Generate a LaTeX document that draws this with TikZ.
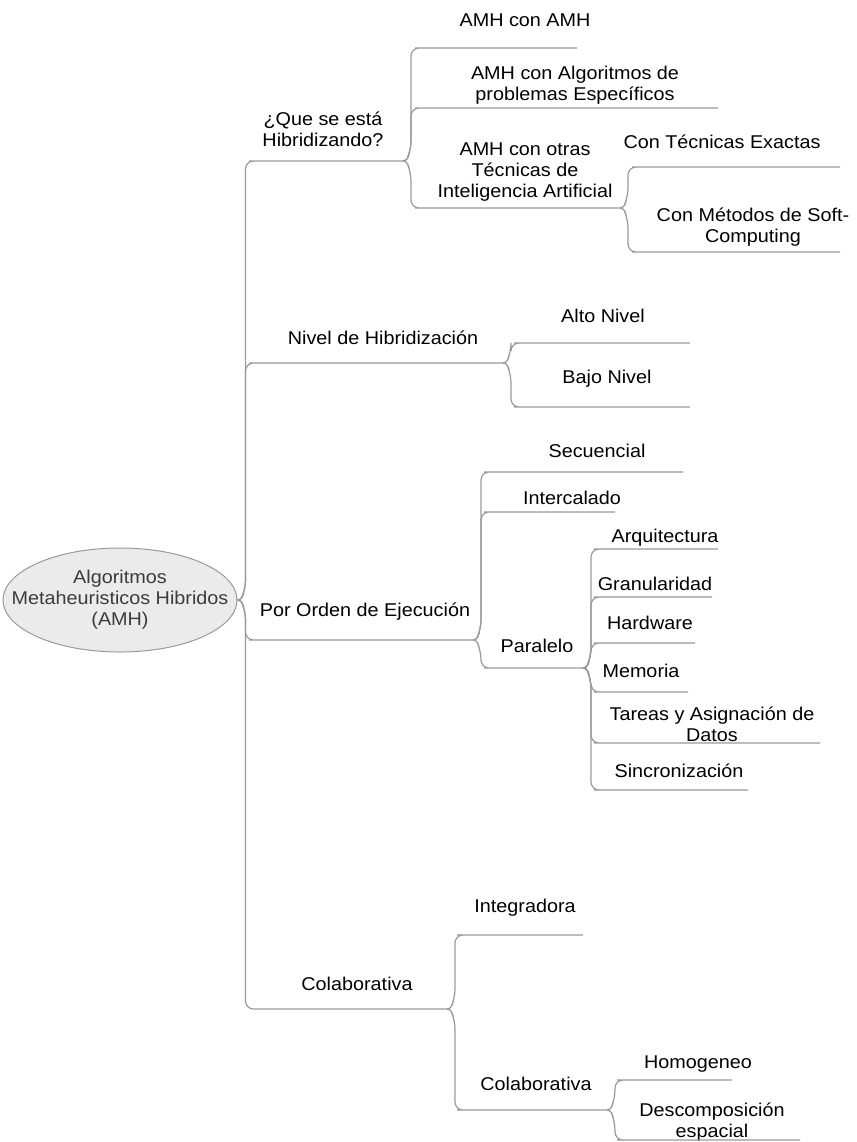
\documentclass[tikz,border=0pt]{standalone}
\usepackage{fontspec}
\setmainfont{Liberation Sans}[FakeStretch=1.07]
\usetikzlibrary{calc,shapes.geometric}
\definecolor{linegray}{HTML}{9A9A9A}
\definecolor{rootfill}{HTML}{EBEBEB}
\definecolor{roottext}{HTML}{3C3C3C}
% branch link: from a junction to the start of a child's underline, then along it
% #1 junction, #2 child name (uses #2-s and #2-e), #3 = -1 child above, +1 child below
\newcommand\mmlink[3]{%
  \draw[conn] (#1) .. controls +(5,0) and +(-2,{-#3*5}) .. ($(#1)+(8,{#3*12})$) |- (#2-s) -- (#2-e);}
\begin{document}
\begin{tikzpicture}[x=1pt,y=-1pt,
  conn/.style={draw=linegray,line width=1.2pt,rounded corners=8pt},
  topic/.style={inner sep=0pt,align=center,font=\fontsize{18.5}{21}\selectfont},
  rootnode/.style={ellipse,draw=linegray,fill=rootfill,line width=1pt,
    minimum width=234pt,minimum height=104pt,inner xsep=-28pt,inner ysep=0pt,align=center,
    text=roottext,font=\fontsize{18.5}{21}\selectfont}]
\useasboundingbox[fill=white] (0,0) rectangle (856,1142);

% central topic
\node[rootnode] (root) at (120,600) {Algoritmos\\Metaheuristicos Hibridos\\(AMH)};

% ---- labels ----
\node[topic] (q)   at (323,129) {¿Que se está\\Hibridizando?};
\node[topic] (q1)  at (525,20)  {AMH con AMH};
\node[topic] (q2)  at (575,85)  {AMH con Algoritmos de\\problemas Específicos};
\node[topic] (q3)  at (525,172) {AMH con otras\\Técnicas de\\Inteligencia Artificial};
\node[topic] (q31) at (722,142) {Con Técnicas Exactas};
\node[topic] (q32) at (753,227) {Con Métodos de Soft-\\Computing};

\node[topic] (n)   at (383,338) {Nivel de Hibridización};
\node[topic] (n1)  at (603,316) {Alto Nivel};
\node[topic] (n2)  at (607,379) {Bajo Nivel};

\node[topic] (o)   at (365,612) {Por Orden de Ejecución};
\node[topic] (o1)  at (597,451) {Secuencial};
\node[topic] (o2)  at (572,498) {Intercalado};
\node[topic] (o3)  at (537,646) {Paralelo};
\node[topic] (p1)  at (665,538) {Arquitectura};
\node[topic] (p2)  at (655,584) {Granularidad};
\node[topic] (p3)  at (650,623) {Hardware};
\node[topic] (p4)  at (641,671) {Memoria};
\node[topic] (p5)  at (712,724) {Tareas y Asignación de\\Datos};
\node[topic] (p6)  at (679,771) {Sincronización};

\node[topic] (c)   at (357,984)  {Colaborativa};
\node[topic] (c1)  at (525,908)  {Integradora};
\node[topic] (c2)  at (536,1084) {Colaborativa};
\node[topic] (c21) at (698,1064) {Homogeneo};
\node[topic] (c22) at (712,1122) {Descomposición\\espacial};

% ---- underline end points ----
\coordinate (q-s) at (257,161);  \coordinate (q-e) at (403,161);
\coordinate (q1-s) at (423,48);  \coordinate (q1-e) at (577,48);
\coordinate (q2-s) at (423,108); \coordinate (q2-e) at (718,108);
\coordinate (q3-s) at (423,208); \coordinate (q3-e) at (620,208);
\coordinate (q31-s) at (640,167); \coordinate (q31-e) at (840,167);
\coordinate (q32-s) at (640,252); \coordinate (q32-e) at (840,252);

\coordinate (n-s) at (257,363);  \coordinate (n-e) at (503,363);
\coordinate (n1-s) at (522,343); \coordinate (n1-e) at (690,343);
\coordinate (n2-s) at (522,407); \coordinate (n2-e) at (690,407);

\coordinate (o-s) at (257,640);  \coordinate (o-e) at (473,640);
\coordinate (o1-s) at (492,472); \coordinate (o1-e) at (683,472);
\coordinate (o2-s) at (492,512); \coordinate (o2-e) at (615,512);
\coordinate (o3-s) at (492,668); \coordinate (o3-e) at (583,668);
\coordinate (p1-s) at (602,549); \coordinate (p1-e) at (718,549);
\coordinate (p2-s) at (602,597); \coordinate (p2-e) at (712,597);
\coordinate (p3-s) at (602,643); \coordinate (p3-e) at (695,643);
\coordinate (p4-s) at (602,692); \coordinate (p4-e) at (688,692);
\coordinate (p5-s) at (602,743); \coordinate (p5-e) at (820,743);
\coordinate (p6-s) at (602,790); \coordinate (p6-e) at (748,790);

\coordinate (c-s) at (262,1009);  \coordinate (c-e) at (447,1009);
\coordinate (c1-s) at (465,935);  \coordinate (c1-e) at (583,935);
\coordinate (c2-s) at (465,1110); \coordinate (c2-e) at (607,1110);
\coordinate (c21-s) at (625,1080); \coordinate (c21-e) at (732,1080);
\coordinate (c22-s) at (625,1140); \coordinate (c22-e) at (800,1140);

% ---- branches ----
\mmlink{root.east}{q}{-1}
\mmlink{root.east}{n}{-1}
\mmlink{root.east}{o}{1}
\mmlink{root.east}{c}{1}

\mmlink{q-e}{q1}{-1}
\mmlink{q-e}{q2}{-1}
\mmlink{q-e}{q3}{1}
\mmlink{q3-e}{q31}{-1}
\mmlink{q3-e}{q32}{1}

\mmlink{n-e}{n1}{-1}
\mmlink{n-e}{n2}{1}

\mmlink{o-e}{o1}{-1}
\mmlink{o-e}{o2}{-1}
\mmlink{o-e}{o3}{1}
\mmlink{o3-e}{p1}{-1}
\mmlink{o3-e}{p2}{-1}
\mmlink{o3-e}{p3}{-1}
\mmlink{o3-e}{p4}{1}
\mmlink{o3-e}{p5}{1}
\mmlink{o3-e}{p6}{1}

\mmlink{c-e}{c1}{-1}
\mmlink{c-e}{c2}{1}
\mmlink{c2-e}{c21}{-1}
\mmlink{c2-e}{c22}{1}
\end{tikzpicture}
\end{document}
